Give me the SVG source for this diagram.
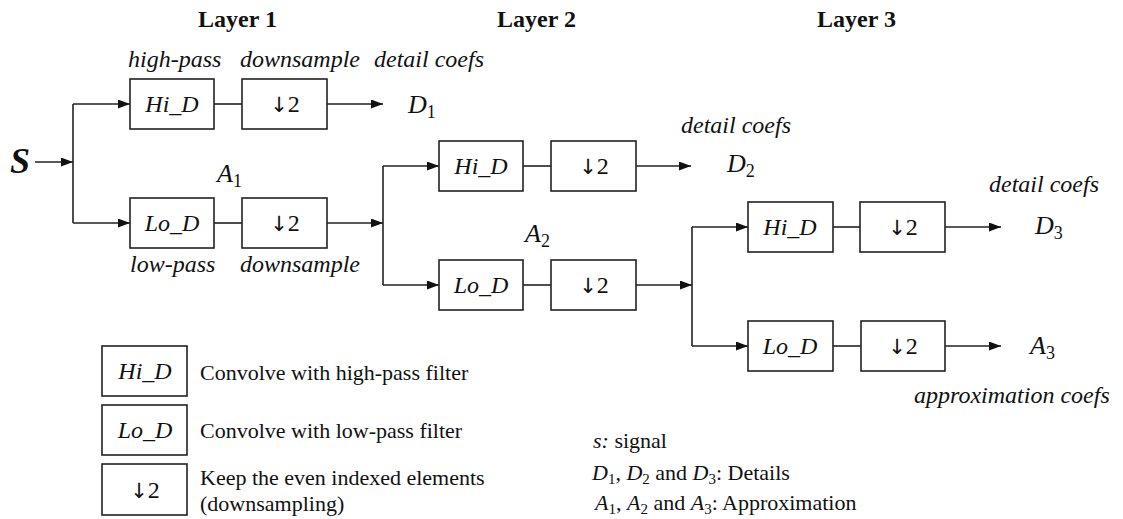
<svg xmlns="http://www.w3.org/2000/svg" width="1123" height="519" viewBox="0 0 1123 519">
<style>
.box{fill:#fff;stroke:#222;stroke-width:1.6}
.ln{fill:none;stroke:#222;stroke-width:1.6}
text{font-family:"Liberation Serif","Times New Roman",serif;fill:#111}
.it{font-style:italic}
.bx{font-size:24px;text-anchor:middle;font-style:italic}
.dn{font-size:24px;text-anchor:middle}
.ar{font-family:"DejaVu Sans",sans-serif;font-size:21px}
.lay{font-size:24px;font-weight:bold}
.lbl{font-size:24px;font-style:italic}
.co{font-size:24px;font-style:italic}
.var{font-size:26px;font-style:italic}
.sub{font-size:18px;font-style:normal}
.lg{font-size:22px}
.lgs{font-size:15px;font-style:normal}
</style>
<defs>
<marker id="ah" markerUnits="userSpaceOnUse" markerWidth="13" markerHeight="10" refX="12" refY="4.5" orient="auto">
<path d="M0,0 L12,4.5 L0,9 z" fill="#111"/>
</marker>
</defs>
<rect width="1123" height="519" fill="#fff"/>

<g id="titles">
<text class="lay" x="198" y="27">Layer 1</text>
<text class="lay" x="497" y="27">Layer 2</text>
<text class="lay" x="817" y="27">Layer 3</text>
</g>

<g id="labels">
<text class="var" x="10" y="173" style="font-size:36px;font-weight:bold">S</text>
<text class="lbl" x="128" y="67">high-pass</text>
<text class="lbl" x="240" y="67">downsample</text>
<text class="co" x="374" y="67">detail coefs</text>
<text class="lbl" x="130" y="272">low-pass</text>
<text class="lbl" x="240" y="272">downsample</text>
<text class="co" x="681" y="133">detail coefs</text>
<text class="co" x="989" y="192">detail coefs</text>
<text class="co" x="914" y="403">approximation coefs</text>
<text class="var" x="408" y="113">D<tspan class="sub" dy="5">1</tspan></text>
<text class="var" x="727" y="172">D<tspan class="sub" dy="5">2</tspan></text>
<text class="var" x="1035" y="234">D<tspan class="sub" dy="5">3</tspan></text>
<text class="var" x="217" y="182">A<tspan class="sub" dy="5">1</tspan></text>
<text class="var" x="525" y="242">A<tspan class="sub" dy="5">2</tspan></text>
<text class="var" x="1030" y="354">A<tspan class="sub" dy="5">3</tspan></text>
</g>

<g id="connectors">
<path class="ln" d="M35,162 H73" marker-end="url(#ah)"/>
<path class="ln" d="M73,104 V223"/>
<path class="ln" d="M73,104 H130" marker-end="url(#ah)"/>
<path class="ln" d="M73,223 H130" marker-end="url(#ah)"/>
<path class="ln" d="M214,104 H242"/>
<path class="ln" d="M327,104 H383" marker-end="url(#ah)"/>
<path class="ln" d="M214,223 H242"/>
<path class="ln" d="M327,223 H383" marker-end="url(#ah)"/>
<path class="ln" d="M383,166 V285"/>
<path class="ln" d="M383,166 H439" marker-end="url(#ah)"/>
<path class="ln" d="M383,285 H439" marker-end="url(#ah)"/>
<path class="ln" d="M523,166 H551"/>
<path class="ln" d="M636,166 H691" marker-end="url(#ah)"/>
<path class="ln" d="M523,285 H551"/>
<path class="ln" d="M636,285 H692" marker-end="url(#ah)"/>
<path class="ln" d="M692,227 V346"/>
<path class="ln" d="M692,227 H748" marker-end="url(#ah)"/>
<path class="ln" d="M692,346 H748" marker-end="url(#ah)"/>
<path class="ln" d="M833,227 H860"/>
<path class="ln" d="M945,227 H1001" marker-end="url(#ah)"/>
<path class="ln" d="M833,346 H861"/>
<path class="ln" d="M945,346 H1001" marker-end="url(#ah)"/>
</g>

<g id="l1-hi"><rect class="box" x="130" y="79" width="84" height="50"/><text class="bx" x="172" y="112">Hi_D</text></g>
<g id="l1-hi-ds"><rect class="box" x="242" y="79" width="85" height="50"/><text class="dn" x="285" y="112"><tspan class="ar">↓</tspan>2</text></g>
<g id="l1-lo"><rect class="box" x="130" y="198" width="84" height="50"/><text class="bx" x="172" y="231">Lo_D</text></g>
<g id="l1-lo-ds"><rect class="box" x="242" y="198" width="85" height="50"/><text class="dn" x="285" y="231"><tspan class="ar">↓</tspan>2</text></g>

<g id="l2-hi"><rect class="box" x="439" y="141" width="84" height="50"/><text class="bx" x="481" y="174">Hi_D</text></g>
<g id="l2-hi-ds"><rect class="box" x="551" y="141" width="85" height="50"/><text class="dn" x="594" y="174"><tspan class="ar">↓</tspan>2</text></g>
<g id="l2-lo"><rect class="box" x="439" y="260" width="84" height="50"/><text class="bx" x="481" y="293">Lo_D</text></g>
<g id="l2-lo-ds"><rect class="box" x="551" y="260" width="85" height="50"/><text class="dn" x="594" y="293"><tspan class="ar">↓</tspan>2</text></g>

<g id="l3-hi"><rect class="box" x="748" y="202" width="85" height="50"/><text class="bx" x="790" y="235">Hi_D</text></g>
<g id="l3-hi-ds"><rect class="box" x="860" y="202" width="85" height="50"/><text class="dn" x="903" y="235"><tspan class="ar">↓</tspan>2</text></g>
<g id="l3-lo"><rect class="box" x="748" y="321" width="85" height="50"/><text class="bx" x="790" y="354">Lo_D</text></g>
<g id="l3-lo-ds"><rect class="box" x="861" y="321" width="84" height="50"/><text class="dn" x="903" y="354"><tspan class="ar">↓</tspan>2</text></g>

<g id="legend-hi"><rect class="box" x="102" y="346" width="85" height="50"/><text class="bx" x="145" y="379">Hi_D</text><text class="lg" x="200" y="380">Convolve with high-pass filter</text></g>
<g id="legend-lo"><rect class="box" x="102" y="405" width="85" height="50"/><text class="bx" x="145" y="438">Lo_D</text><text class="lg" x="200" y="438">Convolve with low-pass filter</text></g>
<g id="legend-ds"><rect class="box" x="102" y="464" width="85" height="51"/><text class="dn" x="145" y="498"><tspan class="ar">↓</tspan>2</text><text class="lg" x="200" y="485">Keep the even indexed elements</text><text class="lg" x="200" y="511">(downsampling)</text></g>

<g id="legend-vars">
<text class="lg" x="593" y="448"><tspan class="it">s:</tspan> signal</text>
<text class="lg" x="592" y="480"><tspan class="it">D</tspan><tspan class="lgs" dy="4">1</tspan><tspan dy="-4">,  </tspan><tspan class="it">D</tspan><tspan class="lgs" dy="4">2</tspan><tspan dy="-4"> and  </tspan><tspan class="it">D</tspan><tspan class="lgs" dy="4">3</tspan><tspan dy="-4">: Details</tspan></text>
<text class="lg" x="595" y="510"><tspan class="it">A</tspan><tspan class="lgs" dy="4">1</tspan><tspan dy="-4">,  </tspan><tspan class="it">A</tspan><tspan class="lgs" dy="4">2</tspan><tspan dy="-4"> and  </tspan><tspan class="it">A</tspan><tspan class="lgs" dy="4">3</tspan><tspan dy="-4">: Approximation</tspan></text>
</g>
</svg>
